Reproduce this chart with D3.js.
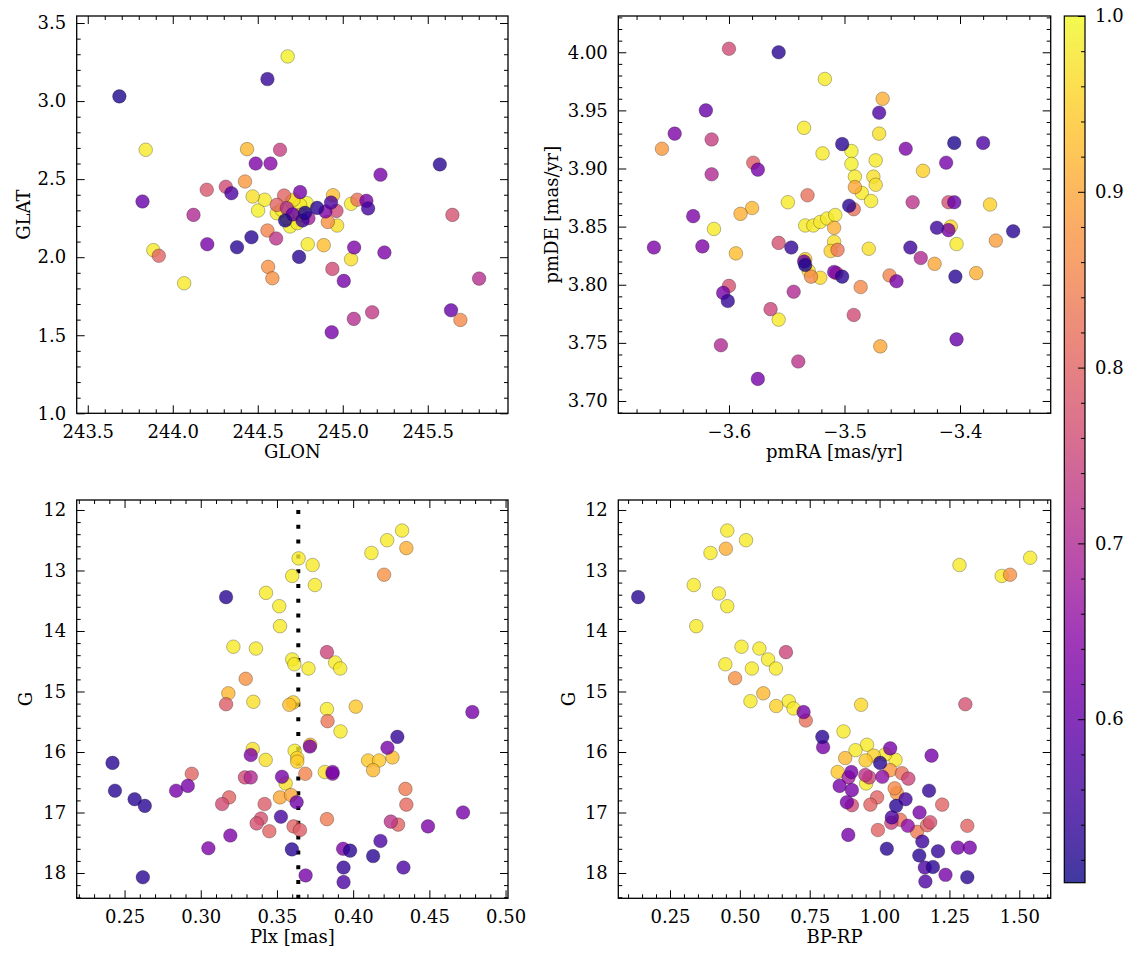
<!DOCTYPE html>
<html><head><meta charset="utf-8">
<script src="https://cdn.jsdelivr.net/npm/d3@7"></script>
<style>
html,body{margin:0;padding:0;background:#fff;}
svg{display:block;}
text{font-family:"DejaVu Serif","Liberation Serif",serif;fill:#000;}
</style></head><body>
<svg id="chart" width="1133" height="965"></svg>
<script>
// ---------- DATA ----------
// Panel 1: sky positions
const glon = [243.686,244.557,244.676,243.841,244.437,244.631,244.488,244.575,245.571,245.222,244.425,244.200,244.312,244.345,243.822,244.122,245.645,244.470,244.541,244.502,244.655,244.612,244.749,244.943,245.049,245.086,245.139,245.149,244.849,244.931,244.898,244.963,244.778,244.706,244.661,244.763,244.798,244.690,244.612,244.749,244.788,244.710,244.912,244.967,244.557,244.608,244.463,244.203,244.378,244.794,244.888,245.067,245.245,244.743,245.049,243.886,243.918,244.561,244.586,244.939,245.006,244.067,245.802,245.637,245.692,245.173,245.065,244.935,244.641,244.700,244.671,244.671,244.733,244.749];
const glat = [3.030,3.141,3.286,2.688,2.692,2.688,2.600,2.600,2.594,2.528,2.485,2.432,2.451,2.410,2.357,2.271,2.271,2.389,2.368,2.299,2.395,2.335,2.417,2.397,2.342,2.368,2.361,2.312,2.316,2.350,2.293,2.297,2.284,2.274,2.235,2.235,2.250,2.197,2.282,2.335,2.346,2.368,2.226,2.203,2.171,2.120,2.128,2.083,2.064,2.083,2.077,2.062,2.030,2.002,1.987,2.045,2.009,1.938,1.865,1.925,1.848,1.833,1.863,1.660,1.598,1.647,1.605,1.519,2.303,2.357,2.250,2.314,2.218,2.271];
const probSky = [0.52,0.54,0.99,0.98,0.92,0.74,0.63,0.64,0.53,0.62,0.88,0.78,0.76,0.57,0.60,0.70,0.77,0.97,0.98,0.99,0.80,0.80,0.62,0.93,0.98,0.82,0.62,0.56,0.53,0.57,0.63,0.76,0.52,0.60,0.52,0.55,0.68,0.99,0.98,0.98,0.99,0.97,0.87,0.97,0.85,0.72,0.53,0.62,0.53,0.98,0.93,0.63,0.63,0.53,0.97,0.98,0.80,0.87,0.87,0.76,0.62,0.98,0.71,0.60,0.86,0.73,0.71,0.62,0.98,0.99,0.99,0.70,0.98,0.96];

// Panel 2: proper motions
const pmra = [-3.600,-3.557,-3.517,-3.467,-3.620,-3.470,-3.647,-3.470,-3.535,-3.615,-3.658,-3.502,-3.494,-3.519,-3.447,-3.405,-3.380,-3.579,-3.575,-3.615,-3.494,-3.473,-3.412,-3.432,-3.491,-3.475,-3.473,-3.491,-3.485,-3.477,-3.532,-3.549,-3.496,-3.492,-3.441,-3.410,-3.405,-3.374,-3.580,-3.590,-3.631,-3.613,-3.665,-3.623,-3.534,-3.527,-3.521,-3.515,-3.508,-3.509,-3.420,-3.410,-3.408,-3.354,-3.557,-3.546,-3.509,-3.512,-3.506,-3.479,-3.443,-3.403,-3.369,-3.594,-3.434,-3.422,-3.534,-3.535,-3.534,-3.531,-3.529,-3.521,-3.509,-3.507,-3.502,-3.461,-3.455,-3.486,-3.404,-3.386,-3.600,-3.605,-3.601,-3.544,-3.564,-3.557,-3.492,-3.607,-3.469,-3.403,-3.540,-3.575];
const pmde = [4.003,4.000,3.977,3.960,3.950,3.948,3.930,3.930,3.935,3.925,3.917,3.921,3.915,3.913,3.917,3.922,3.922,3.905,3.899,3.895,3.904,3.907,3.905,3.898,3.893,3.893,3.886,3.884,3.879,3.872,3.877,3.871,3.868,3.865,3.871,3.871,3.871,3.869,3.866,3.861,3.859,3.848,3.832,3.833,3.851,3.851,3.854,3.857,3.860,3.849,3.849,3.847,3.850,3.846,3.836,3.832,3.837,3.829,3.830,3.831,3.832,3.835,3.838,3.827,3.823,3.818,3.822,3.820,3.817,3.812,3.807,3.806,3.811,3.810,3.807,3.808,3.803,3.798,3.807,3.810,3.799,3.793,3.786,3.794,3.779,3.770,3.774,3.748,3.747,3.753,3.734,3.719];
const probPm = [0.76,0.53,0.98,0.91,0.60,0.57,0.63,0.97,0.98,0.74,0.88,0.53,0.99,0.98,0.63,0.52,0.57,0.79,0.62,0.70,0.99,0.98,0.62,0.95,0.98,0.97,0.97,0.90,0.98,0.98,0.82,0.98,0.53,0.82,0.72,0.77,0.60,0.95,0.92,0.91,0.63,0.98,0.63,0.63,0.98,0.98,0.98,0.98,0.98,0.91,0.55,0.62,0.96,0.53,0.77,0.54,0.97,0.95,0.83,0.97,0.55,0.98,0.89,0.93,0.70,0.90,0.95,0.60,0.52,0.97,0.86,0.96,0.62,0.76,0.53,0.85,0.62,0.86,0.53,0.91,0.77,0.62,0.54,0.70,0.75,0.98,0.76,0.70,0.90,0.60,0.72,0.62];

// Panel 3: parallax vs G
const plx = [0.4321,0.4223,0.4120,0.4349,0.3642,0.3734,0.3600,0.3749,0.4203,0.3166,0.3428,0.3515,0.3520,0.3214,0.3362,0.3828,0.3600,0.3614,0.3882,0.3915,0.3707,0.3295,0.3181,0.3166,0.3345,0.3607,0.3581,0.3828,0.4017,0.3832,0.3917,0.4782,0.4290,0.4225,0.3718,0.3716,0.3341,0.3328,0.3426,0.3616,0.3633,0.3633,0.4098,0.4170,0.4258,0.4131,0.2421,0.3686,0.3814,0.3865,0.3865,0.2941,0.3290,0.3328,0.3533,0.3557,0.2915,0.2838,0.2437,0.2566,0.2633,0.3186,0.3140,0.3419,0.3520,0.3592,0.3629,0.4343,0.4349,0.3395,0.3367,0.3450,0.3526,0.3609,0.3651,0.3828,0.4247,0.4295,0.4491,0.4721,0.3194,0.3050,0.3598,0.3934,0.3980,0.4179,0.4131,0.3937,0.4330,0.3688,0.3937,0.2620];
const gPlx = [12.34,12.50,12.71,12.63,12.80,12.91,13.09,13.24,13.07,13.44,13.37,13.59,13.92,14.26,14.29,14.35,14.47,14.55,14.52,14.62,14.62,14.79,15.03,15.21,15.17,15.18,15.22,15.29,15.25,15.49,15.66,15.34,15.75,15.93,15.88,15.91,15.95,16.05,16.13,15.98,16.10,16.16,16.14,16.14,16.09,16.30,16.18,16.36,16.33,16.36,16.33,16.36,16.42,16.42,16.41,16.52,16.56,16.64,16.64,16.78,16.89,16.75,16.86,16.86,16.75,16.71,16.83,16.61,16.87,17.10,17.18,17.31,17.07,17.23,17.29,17.11,17.15,17.20,17.23,17.00,17.38,17.59,17.61,17.60,17.63,17.47,17.72,17.91,17.91,18.04,18.15,18.07];
const probPlx = [0.98,0.98,0.98,0.91,0.98,0.98,0.98,0.98,0.87,0.53,0.98,0.98,0.98,0.98,0.98,0.75,0.98,0.98,0.98,0.98,0.98,0.87,0.92,0.79,0.97,0.95,0.93,0.98,0.94,0.83,0.98,0.62,0.54,0.62,0.93,0.62,0.97,0.63,0.97,0.98,0.95,0.95,0.94,0.94,0.93,0.92,0.53,0.85,0.97,0.65,0.62,0.80,0.76,0.70,0.62,0.97,0.62,0.62,0.53,0.53,0.53,0.80,0.76,0.79,0.90,0.90,0.61,0.84,0.81,0.77,0.77,0.80,0.56,0.80,0.79,0.84,0.72,0.80,0.63,0.62,0.63,0.63,0.53,0.63,0.53,0.57,0.53,0.54,0.57,0.62,0.57,0.53];
const plxLine = 0.364;

// Panel 4: colour-magnitude diagram
const bprp = [0.136,0.455,0.522,0.395,0.450,0.335,0.425,0.455,0.344,1.286,1.437,1.467,1.539,0.506,0.570,0.665,0.448,0.543,0.601,0.629,0.483,0.538,0.584,0.630,0.675,0.692,0.728,0.736,0.934,1.307,0.871,0.795,0.798,1.186,0.955,0.914,1.038,0.877,0.950,1.002,1.057,0.850,0.899,1.038,1.010,1.080,1.103,0.949,0.963,0.952,0.857,0.901,0.889,0.883,0.901,1.054,1.177,0.991,0.967,1.093,1.059,1.224,1.143,1.044,1.042,1.074,1.101,1.170,1.181,1.134,0.994,0.888,1.314,1.153,1.026,1.209,1.280,1.323,1.142,1.162,1.191,1.236,1.314,1.164,0.979,1.020,1.062];
const gCmd = [13.44,12.34,12.50,12.71,12.64,13.24,13.38,13.59,13.92,12.91,13.09,13.07,12.79,14.26,14.29,14.35,14.55,14.62,14.47,14.62,14.78,15.16,15.03,15.24,15.16,15.28,15.34,15.48,15.22,15.21,15.66,15.75,15.92,16.06,15.88,15.97,15.94,16.10,16.14,16.18,16.13,16.33,16.33,16.30,16.41,16.35,16.44,16.38,16.42,16.52,16.56,16.63,16.42,16.83,16.88,16.60,16.64,16.75,16.87,16.78,16.89,16.87,17.00,17.08,17.17,17.12,17.22,17.21,17.16,17.32,17.29,17.37,17.22,17.48,17.60,17.64,17.58,17.58,17.71,17.91,17.90,18.03,18.07,18.14,16.06,16.04,16.68];
const probCmd = [0.53,0.98,0.98,0.98,0.91,0.98,0.98,0.98,0.98,0.98,0.98,0.87,0.98,0.98,0.98,0.75,0.98,0.98,0.98,0.98,0.87,0.98,0.92,0.95,0.98,0.98,0.62,0.82,0.96,0.77,0.98,0.53,0.62,0.62,0.98,0.98,0.62,0.92,0.94,0.53,0.98,0.94,0.62,0.88,0.65,0.82,0.75,0.72,0.75,0.98,0.62,0.62,0.68,0.62,0.76,0.86,0.54,0.80,0.80,0.56,0.53,0.80,0.62,0.57,0.75,0.82,0.65,0.80,0.77,0.84,0.80,0.62,0.80,0.55,0.53,0.54,0.62,0.62,0.53,0.57,0.53,0.62,0.53,0.57,0.95,0.98,0.88];

// Tick labels
const skyXTicks = [243.5,244.0,244.5,245.0,245.5];
const skyYTicks = [1.0,1.5,2.0,2.5,3.0,3.5];
const pmXTicks = [-3.6,-3.5,-3.4];
const pmYTicks = [3.70,3.75,3.80,3.85,3.90,3.95,4.00];
const plxXTicks = [0.25,0.30,0.35,0.40,0.45,0.50];
const gTicks = [12,13,14,15,16,17,18];
const cmdXTicks = [0.25,0.50,0.75,1.00,1.25,1.50];
const cbTicks = [0.6,0.7,0.8,0.9,1.0];
const probMin = 0.507, probMax = 1.0;

// ---------- DRAWING ----------
const svg = d3.select("#chart");
svg.append("rect").attr("width",1133).attr("height",965).attr("fill","#fff");
const FS = 18;
const FONT = '"DejaVu Serif","Liberation Serif",serif';
const color = p => d3.interpolatePlasma((p - probMin) / (probMax - probMin));

function minorTicks(lo, hi, step, majors) {
  const n = Math.floor((hi - lo) / step + 1e-6);
  const out = [];
  for (let i = 0; i <= n; i++) {
    const v = +(lo + i * step).toFixed(6);
    if (!majors.some(m => Math.abs(m - v) < step / 10)) out.push(v);
  }
  return out;
}

function panel(cfg, idx) {
  const b = cfg.box;
  const x = d3.scaleLinear().domain(cfg.xd).range([b.x0, b.x1]);
  const y = d3.scaleLinear().domain(cfg.yd).range([b.y1, b.y0]);
  const g = svg.append("g");
  const cid = "clip" + idx;
  svg.append("clipPath").attr("id", cid).append("rect")
    .attr("x", b.x0).attr("y", b.y0).attr("width", b.x1 - b.x0).attr("height", b.y1 - b.y0);

  const pts = cfg.xs.map((v, i) => ({x: v, y: cfg.ys[i], p: cfg.ps[i]}))
    .sort((a, c) => c.p - a.p);

  if (cfg.vline !== undefined) {
    g.append("line")
      .attr("x1", x(cfg.vline)).attr("x2", x(cfg.vline))
      .attr("y1", y(cfg.vlineFrom)).attr("y2", b.y1)
      .attr("stroke", "#000").attr("stroke-width", 4)
      .attr("stroke-dasharray", "4,10.8");
  }

  g.append("g").attr("clip-path", `url(#${cid})`)
    .selectAll("circle").data(pts).join("circle")
    .attr("cx", d => x(d.x)).attr("cy", d => y(d.y)).attr("r", 6.8)
    .attr("fill", d => color(d.p)).attr("fill-opacity", 0.8)
    .attr("stroke", "rgba(0,0,0,0.45)").attr("stroke-width", 0.6);

  const xMin = minorTicks(cfg.xMinorStart, Math.max(...cfg.xd), cfg.xMinor, cfg.xTicks);
  const yMin = minorTicks(cfg.yMinorStart, Math.max(...cfg.yd), cfg.yMinor, cfg.yTicks);

  const axes = [
    [d3.axisBottom(x).tickValues(cfg.xTicks).tickSize(-8).tickPadding(11.5).tickFormat(cfg.xFmt), `translate(0,${b.y1})`],
    [d3.axisBottom(x).tickValues(xMin).tickSize(-4).tickFormat(""), `translate(0,${b.y1})`],
    [d3.axisTop(x).tickValues(cfg.xTicks).tickSize(-8).tickFormat(""), `translate(0,${b.y0})`],
    [d3.axisTop(x).tickValues(xMin).tickSize(-4).tickFormat(""), `translate(0,${b.y0})`],
    [d3.axisLeft(y).tickValues(cfg.yTicks).tickSize(-8).tickPadding(10.5).tickFormat(cfg.yFmt), `translate(${b.x0},0)`],
    [d3.axisLeft(y).tickValues(yMin).tickSize(-4).tickFormat(""), `translate(${b.x0},0)`],
    [d3.axisRight(y).tickValues(cfg.yTicks).tickSize(-8).tickFormat(""), `translate(${b.x1},0)`],
    [d3.axisRight(y).tickValues(yMin).tickSize(-4).tickFormat(""), `translate(${b.x1},0)`]
  ];
  axes.forEach(([ax, tr]) => {
    const a = g.append("g").attr("transform", tr).call(ax.tickSizeOuter(0));
    a.select(".domain").remove();
    a.selectAll("line").attr("stroke", "#000").attr("stroke-width", 1);
    a.selectAll("text").attr("font-size", FS).attr("font-family", FONT).attr("fill", "#000");
  });

  g.append("rect").attr("x", b.x0).attr("y", b.y0)
    .attr("width", b.x1 - b.x0).attr("height", b.y1 - b.y0)
    .attr("fill", "none").attr("stroke", "#000").attr("stroke-width", 1.3);

  g.append("text").attr("x", (b.x0 + b.x1) / 2).attr("y", b.y1 + 45)
    .attr("text-anchor", "middle").attr("font-size", FS).text(cfg.xLabel);
  g.append("text")
    .attr("transform", `translate(${cfg.yLabelX},${(b.y0 + b.y1) / 2}) rotate(-90)`)
    .attr("text-anchor", "middle").attr("font-size", FS).text(cfg.yLabel);
}

const rowTop = {y0: 16, y1: 413.3}, rowBot = {y0: 500, y1: 898.3};
const colL = {x0: 76.7, x1: 508}, colR = {x0: 618.3, x1: 1050.7};

panel({box: {...colL, ...rowTop}, xd: [243.435, 245.972], yd: [1.0, 3.545],
  xs: glon, ys: glat, ps: probSky, xTicks: skyXTicks, yTicks: skyYTicks,
  xMinor: 0.1, xMinorStart: 243.5, yMinor: 0.1, yMinorStart: 1.0,
  xFmt: d3.format(".1f"), yFmt: d3.format(".1f"), xLabel: "GLON", yLabel: "GLAT", yLabelX: 30}, 1);

panel({box: {...colR, ...rowTop}, xd: [-3.6958, -3.3215], yd: [3.6894, 4.0312],
  xs: pmra, ys: pmde, ps: probPm, xTicks: pmXTicks, yTicks: pmYTicks,
  xMinor: 0.02, xMinorStart: -3.68, yMinor: 0.01, yMinorStart: 3.69,
  xFmt: d3.format(".1f"), yFmt: d3.format(".2f"), xLabel: "pmRA [mas/yr]", yLabel: "pmDE [mas/yr]", yLabelX: 558}, 2);

panel({box: {...colL, ...rowBot}, xd: [0.2186, 0.5016], yd: [18.418, 11.835],
  xs: plx, ys: gPlx, ps: probPlx, xTicks: plxXTicks, yTicks: gTicks,
  xMinor: 0.01, xMinorStart: 0.22, yMinor: 0.2, yMinorStart: 12.0,
  xFmt: d3.format(".2f"), yFmt: d3.format("d"), xLabel: "Plx [mas]", yLabel: "G", yLabelX: 32,
  vline: plxLine, vlineFrom: 12}, 3);

panel({box: {...colR, ...rowBot}, xd: [0.065, 1.6124], yd: [18.418, 11.835],
  xs: bprp, ys: gCmd, ps: probCmd, xTicks: cmdXTicks, yTicks: gTicks,
  xMinor: 0.05, xMinorStart: 0.1, yMinor: 0.2, yMinorStart: 12.0,
  xFmt: d3.format(".2f"), yFmt: d3.format("d"), xLabel: "BP-RP", yLabel: "G", yLabelX: 575}, 4);

// ---------- COLORBAR ----------
const cb = {x0: 1064.3, x1: 1085, y0: 16, y1: 882.7};
const cScale = d3.scaleLinear().domain([probMin, probMax]).range([cb.y1, cb.y0]);
const defs = svg.append("defs");
const grad = defs.append("linearGradient").attr("id", "cbgrad")
  .attr("x1", 0).attr("y1", 1).attr("x2", 0).attr("y2", 0);
d3.range(0, 1.0001, 0.02).forEach(t => {
  grad.append("stop").attr("offset", t).attr("stop-color", d3.interpolatePlasma(t));
});
svg.append("rect").attr("x", cb.x0).attr("y", cb.y0)
  .attr("width", cb.x1 - cb.x0).attr("height", cb.y1 - cb.y0)
  .attr("fill", "url(#cbgrad)").attr("fill-opacity", 0.8);
const cbMinor = minorTicks(0.52, 1.0, 0.02, cbTicks);
[[cbTicks, -7, d3.format(".1f")], [cbMinor, -4, ""]].forEach(([vals, size, fmt]) => {
  const a = svg.append("g").attr("transform", `translate(${cb.x1},0)`)
    .call(d3.axisRight(cScale).tickValues(vals).tickSize(size).tickSizeOuter(0).tickPadding(10).tickFormat(fmt));
  a.select(".domain").remove();
  a.selectAll("line").attr("stroke", "#000").attr("stroke-width", 1);
  a.selectAll("text").attr("font-size", FS).attr("font-family", FONT).attr("fill", "#000");
});
svg.append("rect").attr("x", cb.x0).attr("y", cb.y0)
  .attr("width", cb.x1 - cb.x0).attr("height", cb.y1 - cb.y0)
  .attr("fill", "none").attr("stroke", "#000").attr("stroke-width", 1.2);
</script>
</body></html>
